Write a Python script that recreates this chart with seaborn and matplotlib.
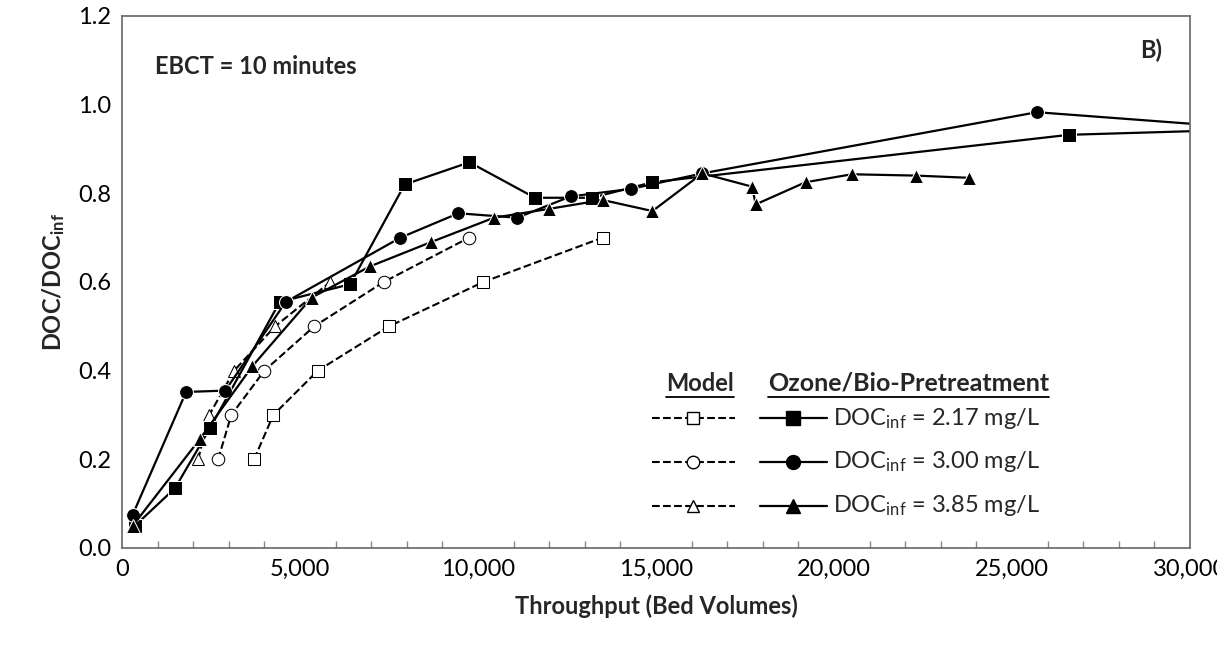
import matplotlib
matplotlib.use("Agg")
import matplotlib.pyplot as plt
from matplotlib.ticker import MultipleLocator, FuncFormatter
import seaborn as sns

# measured data (throughput in bed volumes, DOC/DOCinf)
sq_x = [360, 1490, 2470, 4430, 6410, 7940, 9760, 11600, 13200, 14900, 26600, 35000]
sq_y = [0.05, 0.135, 0.27, 0.555, 0.595, 0.82, 0.87, 0.79, 0.79, 0.825, 0.932, 0.952]
ci_x = [300, 1800, 2900, 4600, 7820, 9450, 11100, 12600, 14300, 16300, 25700, 35000]
ci_y = [0.075, 0.352, 0.355, 0.555, 0.70, 0.755, 0.745, 0.793, 0.81, 0.845, 0.983, 0.927]
tr_x = [300, 2180, 3660, 5330, 6960, 8680, 10450, 12000, 13500, 14900, 16300, 17700, 17800,
        19200, 20500, 22300, 23800]
tr_y = [0.05, 0.245, 0.41, 0.565, 0.635, 0.69, 0.745, 0.765, 0.785, 0.76, 0.845, 0.815, 0.775,
        0.825, 0.843, 0.84, 0.835]

# model curves
msq_x = [3710, 4250, 5500, 7500, 10150, 13500]
msq_y = [0.2, 0.3, 0.4, 0.5, 0.6, 0.7]
mci_x = [2700, 3070, 4000, 5400, 7350, 9750]
mci_y = [0.2, 0.3, 0.4, 0.5, 0.6, 0.7]
mtr_x = [2140, 2450, 3150, 4300, 5850]
mtr_y = [0.2, 0.3, 0.4, 0.5, 0.6]

labels = ["DOC$_{inf}$ = 2.17 mg/L",
          "DOC$_{inf}$ = 3.00 mg/L",
          "DOC$_{inf}$ = 3.85 mg/L"]
markers = ["s", "o", "^"]

sns.set_theme(style="white")
plt.rcParams['font.family'] = ['Lato', 'DejaVu Sans']
plt.rcParams['mathtext.fontset'] = 'custom'
plt.rcParams['mathtext.rm'] = 'Lato'
plt.rcParams['mathtext.bf'] = 'Lato:bold'
plt.rcParams['mathtext.default'] = 'regular'

fig = plt.figure(figsize=(12.17, 6.52), dpi=100)
ax = fig.add_axes([122 / 1217, 1 - 548 / 652, (1190 - 122) / 1217, (548 - 16) / 652])

open_kw = dict(sort=False, linestyle="--", markerfacecolor="white", markeredgecolor="black",
               markersize=9, color="black", linewidth=1.5)
k = dict(sort=False, color="black", linewidth=1.6, markersize=10)
sns.lineplot(x=msq_x, y=msq_y, ax=ax, marker="s", **open_kw)
sns.lineplot(x=mci_x, y=mci_y, ax=ax, marker="o", **open_kw)
sns.lineplot(x=mtr_x, y=mtr_y, ax=ax, marker="^", **open_kw)
sns.lineplot(x=sq_x, y=sq_y, ax=ax, marker="s", **k)
sns.lineplot(x=ci_x, y=ci_y, ax=ax, marker="o", **k)
sns.lineplot(x=tr_x, y=tr_y, ax=ax, marker="^", **k)

ax.set_xlim(0, 30000)
ax.set_ylim(0, 1.2)
ax.xaxis.set_major_locator(MultipleLocator(5000))
ax.xaxis.set_minor_locator(MultipleLocator(1000))
ax.yaxis.set_major_locator(MultipleLocator(0.2))
ax.xaxis.set_major_formatter(FuncFormatter(lambda v, p: f"{int(v):,}"))
ax.yaxis.set_major_formatter(FuncFormatter(lambda v, p: f"{v:.1f}"))
ax.tick_params(axis="both", which="both", direction="in", labelsize=17, colors="black")
ax.tick_params(axis="x", which="major", length=7, width=1, color="#888888", pad=8)
ax.tick_params(axis="x", which="minor", length=5, width=1, color="#888888", bottom=True)
ax.tick_params(axis="y", which="major", length=6, width=1, color="#888888", pad=8)
for s in ax.spines.values():
    s.set_color("#666666")
    s.set_linewidth(1.2)

ax.set_xlabel("Throughput (Bed Volumes)", fontsize=17, fontweight="bold", labelpad=10)
ax.set_ylabel("$\\mathbf{DOC/DOC_{inf}}$", fontsize=17, labelpad=8)

ax.text(0.031, 0.906, "EBCT = 10 minutes", transform=ax.transAxes, fontsize=17,
        fontweight="bold", va="center")
ax.text(0.953, 0.936, "B)", transform=ax.transAxes, fontsize=17, fontweight="bold", va="center")

# legend drawn by hand
tr = ax.transAxes
h1 = ax.text(0.541, 0.31, "Model", transform=tr, fontsize=17, fontweight="bold", ha="center", va="center")
h2 = ax.text(0.605, 0.31, "Ozone/Bio-Pretreatment", transform=tr, fontsize=18, fontweight="bold",
             ha="left", va="center")
fig.canvas.draw()
inv = tr.inverted()
for h in (h1, h2):
    bb = h.get_window_extent()
    (x0, _), (x1, _) = inv.transform([[bb.x0, bb.y0], [bb.x1, bb.y1]])
    ax.plot([x0, x1], [0.284, 0.284], transform=tr, color="black", lw=1.3, clip_on=False)
rows = [0.244, 0.162, 0.079]
for yy, m, lab in zip(rows, markers, labels):
    ax.plot([0.496, 0.574], [yy, yy], transform=tr, color="black", ls="--", lw=1.5)
    ax.plot([0.535], [yy], transform=tr, marker=m, mfc="white", mec="black", ms=9, color="black")
    ax.plot([0.597, 0.66], [yy, yy], transform=tr, color="black", lw=1.6)
    ax.plot([0.628], [yy], transform=tr, marker=m, ms=10, color="black")
    ax.text(0.666, yy, lab, transform=tr, fontsize=17, va="center")

fig.savefig("out.png", dpi=100)
